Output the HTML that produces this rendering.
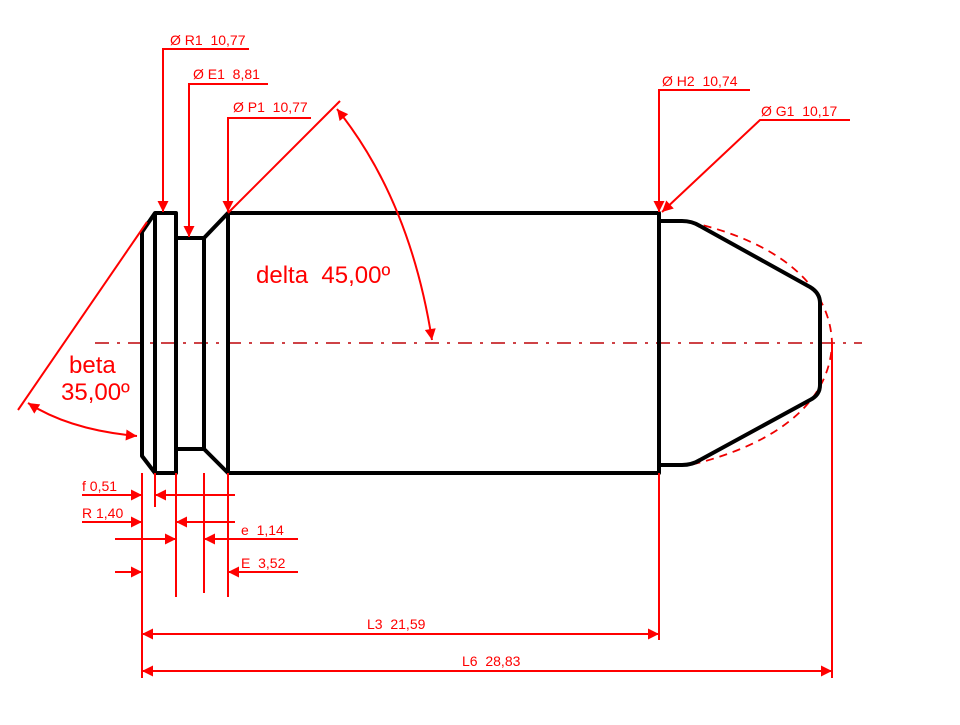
<!DOCTYPE html>
<html><head><meta charset="utf-8"><style>html,body{margin:0;padding:0;background:#fff}text{white-space:pre}</style></head><body>
<svg width="960" height="720" viewBox="0 0 960 720" xmlns="http://www.w3.org/2000/svg" font-family="Liberation Sans, sans-serif" xml:space="preserve">
<defs>
<marker id="a" viewBox="0 0 10 10" refX="10" refY="5" markerWidth="14" markerHeight="11" markerUnits="userSpaceOnUse" orient="auto-start-reverse"><path d="M0,0L10,5L0,10z" fill="#f00"/></marker>
</defs>
<line x1="95" y1="343" x2="862" y2="343" stroke="#c8282d" stroke-width="1.8" stroke-dasharray="14,8,3,8"/>
<path d="M690,222 C770,240 830,280 832,343 C830,406 770,446 690,465" fill="none" stroke="#e00" stroke-width="1.8" stroke-dasharray="8,6"/>
<g fill="none" stroke="#000" stroke-width="4" stroke-linejoin="round">
<path d="M155,213 L142,232 L142,456 L155,473 L176,473 L176,213 Z"/>
<line x1="155" y1="213" x2="155" y2="473"/>
<path d="M176,238 L204,238 L228,213 L659,213 L659,473 L228,473 L204,449 L176,449"/>
<line x1="204" y1="238" x2="204" y2="449"/>
<line x1="228" y1="213" x2="228" y2="473"/>
<path d="M659,221 L682,221 Q692,221 700,226 L810,287 Q820,293 820,303 L820,385 Q820,395 810,400 L700,460 Q692,465 682,465 L659,465"/>
</g>
<g stroke="#f00" stroke-width="2" fill="none">
<polyline points="249,49 163,49 163,212" marker-end="url(#a)"/>
<polyline points="268,84 189,84 189,237" marker-end="url(#a)"/>
<polyline points="311,118 228,118 228,212" marker-end="url(#a)"/>
<polyline points="750,90 659,90 659,212" marker-end="url(#a)"/>
<polyline points="850,120 760,120 662,212" marker-end="url(#a)"/>
<line x1="228" y1="213" x2="340" y2="101"/>
<line x1="18" y1="410" x2="147" y2="222"/>
<path d="M337,109 Q410,200 432,340" marker-end="url(#a)" marker-start="url(#a)"/>
<path d="M28,403 Q70,430 137,436" marker-end="url(#a)" marker-start="url(#a)"/>
<line x1="142" y1="473" x2="142" y2="678"/>
<line x1="155" y1="473" x2="155" y2="507"/>
<line x1="176" y1="473" x2="176" y2="597"/>
<line x1="204" y1="473" x2="204" y2="593"/>
<line x1="228" y1="473" x2="228" y2="597"/>
<line x1="659" y1="473" x2="659" y2="640"/>
<line x1="832" y1="343" x2="832" y2="678"/>
<line x1="82" y1="495" x2="142" y2="495" marker-end="url(#a)"/>
<line x1="235" y1="495" x2="155" y2="495" marker-end="url(#a)"/>
<line x1="82" y1="522" x2="142" y2="522" marker-end="url(#a)"/>
<line x1="235" y1="522" x2="176" y2="522" marker-end="url(#a)"/>
<line x1="115" y1="539" x2="176" y2="539" marker-end="url(#a)"/>
<line x1="298" y1="539" x2="204" y2="539" marker-end="url(#a)"/>
<line x1="115" y1="572" x2="142" y2="572" marker-end="url(#a)"/>
<line x1="298" y1="572" x2="228" y2="572" marker-end="url(#a)"/>
<line x1="142" y1="634" x2="659" y2="634" marker-end="url(#a)" marker-start="url(#a)"/>
<line x1="142" y1="671" x2="832" y2="671" marker-end="url(#a)" marker-start="url(#a)"/>
</g>
<g fill="#f00" font-size="14">
<text x="170" y="45">Ø R1  10,77</text>
<text x="193" y="79">Ø E1  8,81</text>
<text x="233" y="112">Ø P1  10,77</text>
<text x="662" y="86">Ø H2  10,74</text>
<text x="761" y="116">Ø G1  10,17</text>
<text x="82" y="491">f 0,51</text>
<text x="82" y="518">R 1,40</text>
<text x="241" y="535">e  1,14</text>
<text x="241" y="568">E  3,52</text>
<text x="367" y="629">L3  21,59</text>
<text x="462" y="666">L6  28,83</text>
</g>
<g fill="#f00" font-size="24">
<text x="256" y="283">delta  45,00º</text>
<text x="69" y="373">beta</text>
<text x="61" y="400">35,00º</text>
</g>
</svg>
</body></html>
